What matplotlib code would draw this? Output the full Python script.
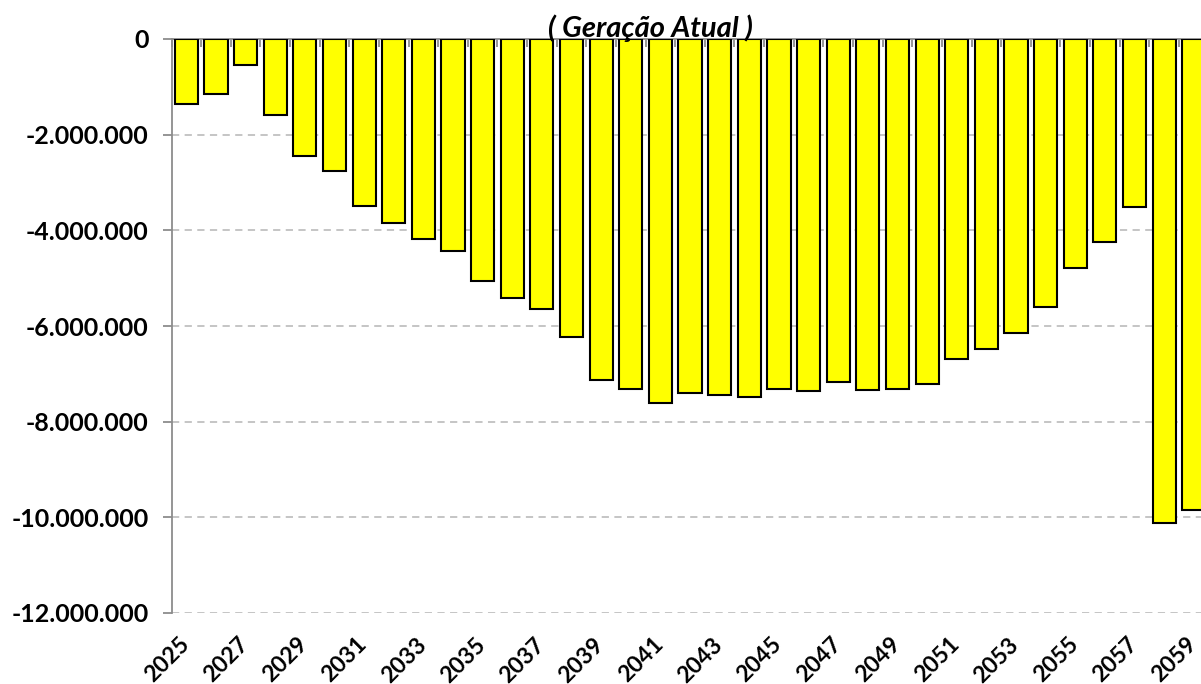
#!/usr/bin/env python3

import matplotlib
matplotlib.use("Agg")
import matplotlib.pyplot as plt
import matplotlib.transforms as mtransforms
from matplotlib.ticker import FuncFormatter, MultipleLocator
import numpy as np

years = list(range(2025, 2060))
values = [
    -1350000, -1150000, -550000, -1580000, -2450000, -2750000,
    -3490000, -3850000, -4190000, -4430000, -5050000, -5410000, -5650000,
    -6240000, -7130000, -7320000, -7620000, -7410000, -7450000, -7490000,
    -7320000, -7360000, -7180000, -7340000, -7310000, -7220000,
    -6680000, -6480000, -6150000, -5600000, -4790000, -4240000, -3510000,
    -10110000, -9840000,
]
title_text = "( Geração Atual )"


def _fmt(v, pos):
    return f"{int(v):,}".replace(",", ".")


def _main():
    plt.rcParams['font.family'] = ['Lato', 'DejaVu Sans']
    W, H = 1201, 684
    fig = plt.figure(figsize=(W / 100, H / 100), dpi=100)
    # axes run past the right edge, as in the reference (last bar is cut)
    left, right, top, bottom = 171.5, 1208.6, 39, 613
    ax = fig.add_axes([left / W, 1 - bottom / H, (right - left) / W, (bottom - top) / H])

    x = np.arange(len(years))
    ax.bar(x, values, width=0.78, color="#FFFF00", edgecolor="black",
           linewidth=1.5, zorder=3)

    ax.set_xlim(-0.5, len(years) - 0.5)
    ax.set_ylim(-12000000, 0)
    ax.yaxis.set_major_locator(MultipleLocator(2000000))
    ax.yaxis.set_major_formatter(FuncFormatter(_fmt))
    ax.grid(axis="y", color="#c0c0c0", linestyle=(0, (4, 3)), linewidth=1.3, zorder=0)

    for s in ["right", "bottom"]:
        ax.spines[s].set_visible(False)
    for s in ["left", "top"]:
        ax.spines[s].set_color("#8c8c8c")
        ax.spines[s].set_linewidth(1.3)

    ax.tick_params(axis="y", direction="out", length=6.5, color="#8c8c8c",
                   width=1.3, labelsize=18, pad=10)
    for lab in ax.get_yticklabels():
        lab.set_fontweight("bold")

    ax.set_xticks(x[::2])
    ax.set_xticklabels([str(y) for y in years[::2]], rotation=45, ha="right",
                       rotation_mode="anchor", fontsize=16.5, fontweight="bold")
    ax.tick_params(axis="x", bottom=True, length=0, pad=15)
    shift = mtransforms.ScaledTranslation(-8 / 100, 0, fig.dpi_scale_trans)
    for lab in ax.get_xticklabels():
        lab.set_transform(lab.get_transform() + shift)
    # category boundary ticks on the zero line at the top
    ax.set_xticks(np.arange(-0.5, len(years), 1), minor=True)
    ax.tick_params(axis="x", which="minor", bottom=False, top=True,
                   direction="in", length=6, color="#8c8c8c", width=1.3)

    fig.text(650 / W, 1 - 37 / H, title_text, ha="center", va="baseline",
             fontsize=21, fontweight="bold", fontstyle="italic")

    fig.savefig("out.png", dpi=100)


if __name__ == '__main__':
    _main()
